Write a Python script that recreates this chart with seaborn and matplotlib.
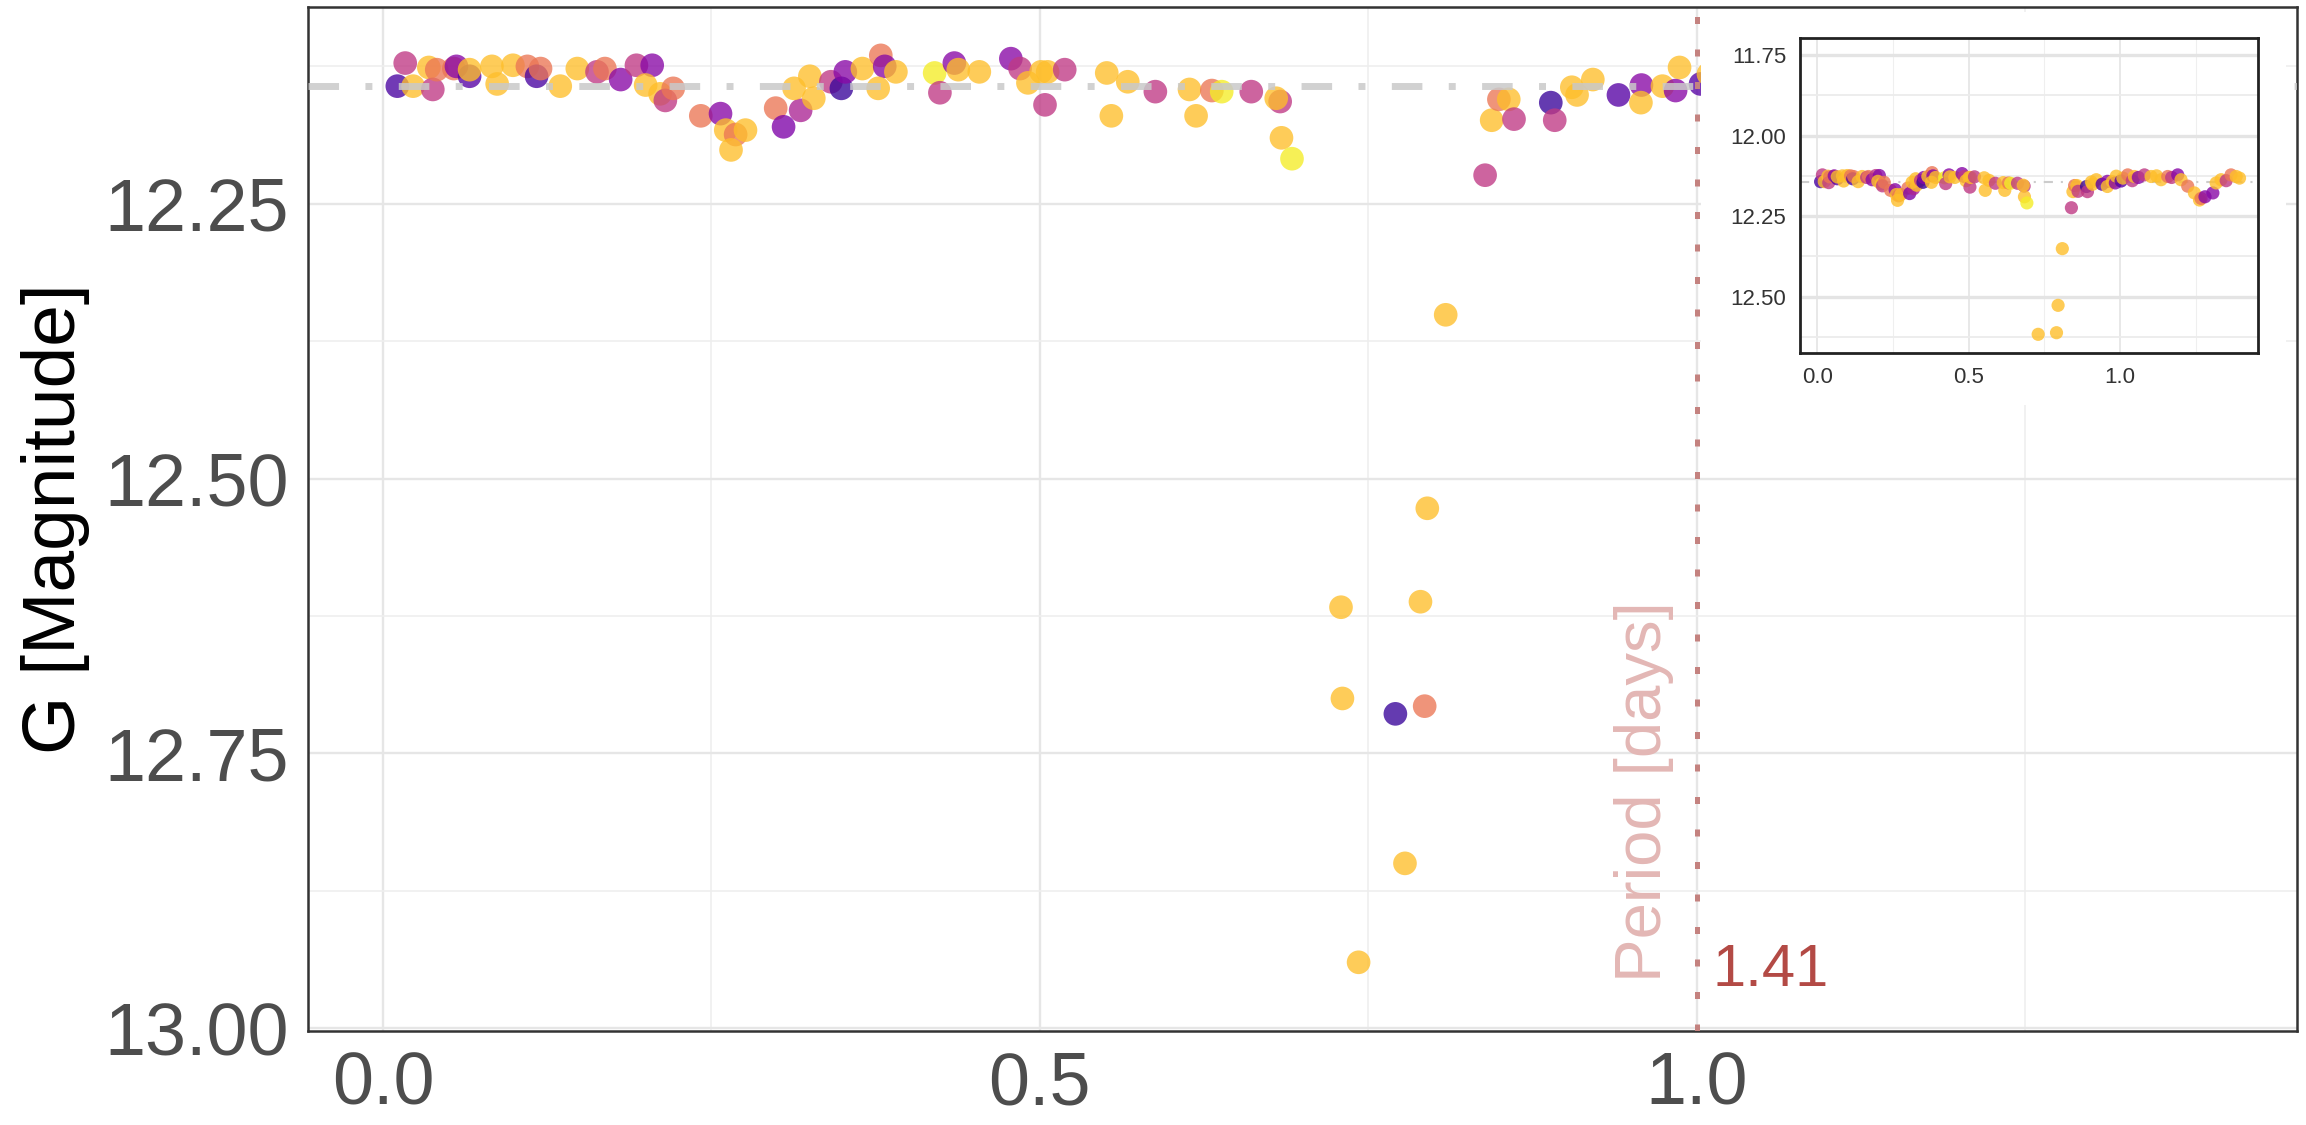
import matplotlib
matplotlib.use("Agg")
import matplotlib.pyplot as plt
import matplotlib.patches as mpatches
import seaborn as sns
import pandas as pd

# ---------------- data ----------------
# colour codes (plasma scale position)
DB, P, M, O, Y, BY = 0.08, 0.28, 0.45, 0.66, 0.86, 0.97

phase = [0.011, 0.017, 0.023, 0.035, 0.038, 0.041, 0.054, 0.056, 0.066, 0.066,
         0.083, 0.087, 0.099, 0.110, 0.117, 0.120, 0.135, 0.148, 0.163, 0.169,
         0.181, 0.193, 0.205, 0.200, 0.211, 0.215, 0.221,
         0.242, 0.257, 0.261, 0.2685, 0.276, 0.265, 0.299, 0.305, 0.318, 0.313,
         0.325, 0.328, 0.341, 0.349, 0.352, 0.365, 0.379, 0.382, 0.3905, 0.377,
         0.420, 0.424, 0.435, 0.438, 0.454, 0.478, 0.485, 0.491, 0.501, 0.504,
         0.506, 0.519, 0.551, 0.567, 0.5545, 0.588, 0.614, 0.619, 0.631, 0.6385,
         0.661, 0.683, 0.680, 0.684, 0.692,
         0.7293, 0.7304, 0.7427, 0.7707, 0.778, 0.7898, 0.793, 0.795, 0.809,
         0.839, 0.844, 0.8495, 0.857, 0.861, 0.889, 0.892, 0.905, 0.909, 0.921,
         0.9405, 0.958, 0.9576, 0.974, 0.984, 0.987, 1.003,
         1.009, 1.025, 1.040, 1.047, 1.060, 1.080, 1.102, 1.120, 1.135, 1.157,
         1.170, 1.190, 1.201, 1.223, 1.245, 1.262, 1.267, 1.280, 1.306, 1.317,
         1.333, 1.350, 1.366, 1.383, 1.394]

gmag = [12.143, 12.122, 12.143, 12.126, 12.146, 12.128, 12.127, 12.125, 12.134, 12.128,
        12.125, 12.141, 12.124, 12.125, 12.134, 12.127, 12.143, 12.127, 12.130, 12.127,
        12.137, 12.124, 12.124, 12.142, 12.150, 12.156, 12.145,
        12.170, 12.168, 12.183, 12.187, 12.183, 12.201, 12.163, 12.180, 12.165, 12.145,
        12.134, 12.154, 12.139, 12.145, 12.130, 12.127, 12.115, 12.125, 12.130, 12.145,
        12.131, 12.149, 12.122, 12.128, 12.130, 12.118, 12.127, 12.140, 12.130, 12.160,
        12.130, 12.128, 12.131, 12.139, 12.170, 12.148, 12.146, 12.170, 12.147, 12.148,
        12.148, 12.157, 12.154, 12.190, 12.209,
        12.617, 12.700, 12.940, 12.714, 12.850, 12.612, 12.707, 12.527, 12.351,
        12.224, 12.174, 12.155, 12.155, 12.173, 12.158, 12.174, 12.144, 12.151, 12.137,
        12.151, 12.142, 12.158, 12.143, 12.147, 12.126, 12.141,
        12.132, 12.122, 12.140, 12.127, 12.130, 12.122, 12.127, 12.125, 12.137, 12.127,
        12.130, 12.122, 12.137, 12.157, 12.178, 12.200, 12.195, 12.190, 12.178, 12.147,
        12.137, 12.140, 12.122, 12.127, 12.132]

colour_val = [0.12, M, Y, Y, M, O, O, P, 0.15, Y,
              Y, Y, Y, O, 0.12, O, Y, Y, M, O,
              P, M, P, Y, Y, M, O,
              O, P, Y, O, Y, Y, O, 0.25, 0.38, Y,
              Y, Y, M, DB, P, Y, O, P, Y, Y,
              BY, M, P, Y, Y, P, M, Y, Y, M,
              Y, M, Y, Y, Y, M, Y, Y, O, BY,
              M, M, Y, Y, BY,
              Y, Y, Y, DB, Y, Y, O, Y, Y,
              M, Y, O, Y, M, DB, M, Y, Y, Y,
              0.15, P, Y, Y, P, Y, 0.15,
              Y, O, M, Y, P, M, Y, Y, Y, O,
              M, P, Y, O, Y, Y, O, P, P, Y,
              Y, M, O, Y, Y]

x_ticks = [0.0, 0.5, 1.0]
x_tick_labels = ["0.0", "0.5", "1.0"]
y_ticks = [12.25, 12.50, 12.75, 13.00]
y_tick_labels = ["12.25", "12.50", "12.75", "13.00"]
inset_y_ticks = [11.75, 12.00, 12.25, 12.50]
inset_y_tick_labels = ["11.75", "12.00", "12.25", "12.50"]
mean_mag = 12.143
period = 1.41

df = pd.DataFrame({"phase": phase, "G": gmag, "c": colour_val})

# ---------------- style ----------------
sns.set_theme(style="white")
plt.rcParams["font.family"] = ["Liberation Sans", "DejaVu Sans"]

W, H = 2306, 1125
fig = plt.figure(figsize=(W / 100, H / 100), dpi=100)
fig.patch.set_facecolor("white")

def fx(px):
    return px / W

def fy(py):
    return 1 - py / H

# ---------------- main axes ----------------
L, R, T, B = 308, 2297, 7, 1031
ax = fig.add_axes([fx(L), fy(B), (R - L) / W, (B - T) / H])
ax.set_facecolor("white")
ax.set_xlim(-0.057, 1.457)
ax.set_ylim(13.0025, 12.071)

ax.set_xticks(x_ticks)
ax.set_xticklabels(x_tick_labels)
ax.set_yticks(y_ticks)
ax.set_yticklabels(y_tick_labels)
ax.set_xticks([0.25, 0.75, 1.25], minor=True)
ax.set_yticks([12.125, 12.375, 12.625, 12.875], minor=True)

ax.grid(which="major", color="#e6e6e6", lw=1.7, zorder=0)
ax.grid(which="minor", color="#eeeeee", lw=1.1, zorder=0)
ax.set_axisbelow(True)

for s in ax.spines.values():
    s.set_color("#333333")
    s.set_linewidth(1.8)
    s.set_visible(True)

ax.tick_params(axis="both", which="major", direction="out", length=9, width=1.8,
               color="#333333", labelsize=53, labelcolor="#4d4d4d", pad=5)
ax.tick_params(axis="both", which="minor", length=0)

sns.scatterplot(data=df, x="phase", y="G", hue="c", palette="plasma",
                hue_norm=(0, 1), s=290, alpha=0.78, linewidth=0,
                legend=False, ax=ax, zorder=3)

ax.axhline(mean_mag, color="#c9c9c9", lw=5, alpha=0.85,
           dashes=(4.4, 3.8, 1, 3.8), zorder=4)
ax.axvline(1.0, color="#c4827f", lw=3.6, dashes=(1.4, 5.1), zorder=4)

ax.text(0.983, 12.958, "Period [days]", rotation=90, ha="right", va="bottom",
        fontsize=47, color="#e3b7b5", zorder=5)
ax.text(1.012, 12.962, f"{period:.2f}", ha="left", va="baseline",
        fontsize=43, color="#b34a45", zorder=5)

ax.set_xlabel("")
ax.set_ylabel("G [Magnitude]", fontsize=54, color="black", labelpad=10)

# ---------------- inset ----------------
bg = mpatches.Rectangle((fx(1701), fy(405)), (2286 - 1701) / W, (405 - 12) / H,
                        transform=fig.transFigure, facecolor="white",
                        edgecolor="none", zorder=2)
fig.patches.append(bg)

IL, IR, IT, IB = 1800, 2258, 38, 353
axi = fig.add_axes([fx(IL), fy(IB), (IR - IL) / W, (IB - IT) / H], zorder=3)
axi.set_facecolor("white")
axi.set_xlim(-0.057, 1.455)
axi.set_ylim(12.675, 11.697)
axi.set_xticks(x_ticks)
axi.set_xticklabels(x_tick_labels)
axi.set_yticks(inset_y_ticks)
axi.set_yticklabels(inset_y_tick_labels)
axi.set_xticks([0.25, 0.75, 1.25], minor=True)
axi.set_yticks([11.875, 12.125, 12.375, 12.625], minor=True)

axi.grid(axis="y", which="major", color="#e4e4e4", lw=2.4, zorder=0)
axi.grid(axis="y", which="minor", color="#ececec", lw=1.3, zorder=0)
axi.grid(axis="x", which="major", color="#e4e4e4", lw=1.2, zorder=0)
axi.grid(axis="x", which="minor", color="#efefef", lw=0.8, zorder=0)
axi.set_axisbelow(True)
for s in axi.spines.values():
    s.set_color("#222222")
    s.set_linewidth(2.0)
    s.set_visible(True)
axi.tick_params(axis="both", which="major", direction="out", length=7, width=2,
                color="#222222", labelsize=16, labelcolor="#333333", pad=3)
axi.tick_params(axis="both", which="minor", length=0)

sns.scatterplot(data=df, x="phase", y="G", hue="c", palette="plasma",
                hue_norm=(0, 1), s=90, alpha=0.8, linewidth=0,
                legend=False, ax=axi, zorder=3)
axi.axhline(mean_mag, color="#cccccc", lw=1.5, dashes=(4.4, 3.8, 1, 3.8), zorder=2)
axi.set_xlabel("")
axi.set_ylabel("")

fig.savefig("out.png", dpi=100, facecolor="white")
